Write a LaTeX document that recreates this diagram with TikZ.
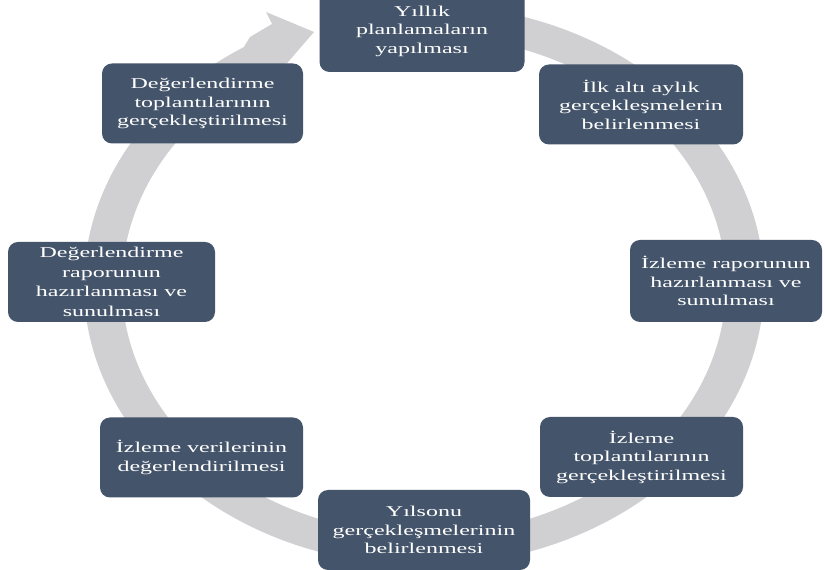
\documentclass[tikz,border=0pt]{standalone}
\usepackage{fontspec}
\setmainfont[FakeStretch=1.6]{Liberation Serif}
\usetikzlibrary{calc}
\definecolor{boxblue}{HTML}{44546A}
\definecolor{ringgray}{RGB}{208,208,211}
\begin{document}
\begin{tikzpicture}[x=1pt,y=1pt,
  stepbox/.style={rectangle, rounded corners=10pt, fill=boxblue, text=white,
    align=center, inner sep=0pt, minimum height=80pt,
    font=\fontsize{15}{18.5}\selectfont}]
\useasboundingbox (0,0) rectangle (825,570);
\fill[white] (0,0) rectangle (825,570);
\coordinate (C) at (424,285);
% circular arrow ring
\fill[ringgray] ($(C)+(80:340pt and 280.5pt)$)
  arc[start angle=80, end angle=-238, x radius=340pt, y radius=280.5pt]
  -- (250,533) -- (272,546) -- (266,558) -- (314,538) -- (282,501)
  -- ($(C)+(117:302pt and 249.5pt)$)
  arc[start angle=117, end angle=440, x radius=302pt, y radius=249.5pt]
  -- cycle;
% boxes
\node[stepbox, minimum width=205pt, minimum height=82pt] (n1) at (422,539) {Yıllık\\planlamaların\\yapılması};
\node[stepbox, minimum width=201pt] (n2) at (202.5,466.5) {Değerlendirme\\toplantılarının\\gerçekleştirilmesi};
\node[stepbox, minimum width=204pt] (n3) at (641,465.5) {İlk altı aylık\\gerçekleşmelerin\\belirlenmesi};
\node[stepbox, minimum width=192pt, minimum height=82pt] (n4) at (726,289) {İzleme raporunun\\hazırlanması ve\\sunulması};
\node[stepbox, minimum width=207pt, font=\fontsize{15}{19.5}\selectfont] (n5) at (111.5,288) {Değerlendirme\\raporunun\\hazırlanması ve\\sunulması};
\node[stepbox, minimum width=212pt] (n6) at (424,40) {Yılsonu\\gerçekleşmelerinin\\belirlenmesi};
\node[stepbox, minimum width=203pt] (n7) at (201.5,112.5) {İzleme verilerinin\\değerlendirilmesi};
\node[stepbox, minimum width=203pt] (n8) at (641.5,113) {İzleme\\toplantılarının\\gerçekleştirilmesi};
\end{tikzpicture}
\end{document}
